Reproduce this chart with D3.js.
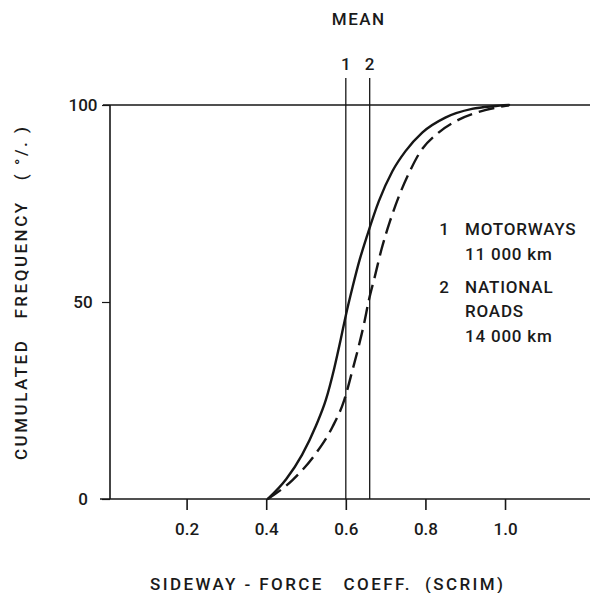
<!DOCTYPE html>
<html>
<head>
<meta charset="utf-8">
<script src="https://cdn.jsdelivr.net/npm/d3@7"></script>
<style>
  html, body { margin: 0; padding: 0; background: #ffffff; }
  svg { display: block; }
  text { font-family: Roboto, "Liberation Sans", Arial, sans-serif; font-weight: 500; fill: #1a1a1a; }
</style>
</head>
<body>
<svg id="chart" width="590" height="593"></svg>
<script>
// ---- data ----
const motorways = [
  [0.404, 0], [0.45, 5.0], [0.49, 11.2], [0.525, 18.6], [0.55, 25.2],
  [0.571, 33.2], [0.587, 40.4], [0.60, 46.6], [0.617, 53.8], [0.635, 60.8],
  [0.654, 67.0], [0.683, 75.6], [0.717, 83.2], [0.750, 88.3], [0.792, 93.0],
  [0.850, 96.8], [0.917, 99.0], [0.97, 99.7], [1.01, 100]
];
const nationalRoads = [
  [0.404, 0], [0.466, 4.8], [0.525, 11.6], [0.567, 18.4], [0.596, 25.1],
  [0.617, 32.8], [0.633, 39.0], [0.646, 44.6], [0.658, 50.5], [0.673, 56.5],
  [0.69, 63.5], [0.711, 70.5], [0.736, 77.5], [0.76, 83.0], [0.785, 87.8],
  [0.833, 93.0], [0.884, 96.3], [0.950, 98.7], [1.01, 99.9]
];
const meanValues = [0.60, 0.66];
const meanLabels = ["1", "2"];
const xTicks = [0.2, 0.4, 0.6, 0.8, 1.0];
const yTicks = [0, 50, 100];
const legendLines = [
  { key: "1", lines: ["MOTORWAYS", "11 000 km"] },
  { key: "2", lines: ["NATIONAL", "ROADS", "14 000 km"] }
];
const xTitle = "SIDEWAY - FORCE   COEFF.  (SCRIM)";
const yTitle = "CUMULATED   FREQUENCY   ( °/. )";
const meanTitle = "MEAN";

// ---- layout ----
const svg = d3.select("#chart");
const x = d3.scaleLinear().domain([0, 1.215]).range([107, 590.6]);
const y = d3.scaleLinear().domain([0, 100]).range([499, 105]);
const ink = "#161616";
const FS = 17;
const FF = 'Roboto, "Liberation Sans", Arial, sans-serif';

// top 100% line
svg.append("line")
  .attr("x1", 103).attr("x2", 590)
  .attr("y1", y(100)).attr("y2", y(100))
  .attr("stroke", ink).attr("stroke-width", 1.3);

// x axis
const xAxis = d3.axisBottom(x).tickValues(xTicks).tickSize(11).tickSizeOuter(0)
  .tickFormat(d3.format(".1f"));
const gx = svg.append("g").attr("transform", `translate(0,${y(0)})`).call(xAxis);
gx.select(".domain").attr("d", `M100,0H590`).attr("stroke", ink).attr("stroke-width", 1.5);
gx.selectAll(".tick line").attr("stroke", ink).attr("stroke-width", 1.6);
gx.selectAll(".tick text").attr("y", 36).attr("dy", 0)
  .style("font-size", FS + "px").style("font-family", FF).style("font-weight", 500)
  .attr("fill", ink);

// y axis
const yAxis = d3.axisLeft(y).tickValues(yTicks).tickSize(8).tickSizeOuter(0);
const gy = svg.append("g").attr("transform", `translate(110,0)`).call(yAxis);
gy.select(".domain").attr("d", `M0,${y(100)}V${y(0)}`).attr("stroke", ink).attr("stroke-width", 1.6);
gy.selectAll(".tick line").attr("stroke", ink).attr("stroke-width", 1.2);
gy.selectAll(".tick text").attr("x", -27).attr("dy", "0.35em")
  .attr("text-anchor", "middle")
  .style("font-size", FS + "px").style("font-family", FF).style("font-weight", 500)
  .attr("fill", ink);

// mean lines
svg.selectAll(".mean").data(meanValues).join("line")
  .attr("class", "mean")
  .attr("x1", d => x(d)).attr("x2", d => x(d))
  .attr("y1", 78).attr("y2", y(0))
  .attr("stroke", ink).attr("stroke-width", 1.3);
svg.selectAll(".meanlab").data(meanValues).join("text")
  .attr("class", "meanlab")
  .attr("x", d => x(d)).attr("y", 70)
  .attr("text-anchor", "middle")
  .style("font-size", FS + "px")
  .text((d, i) => meanLabels[i]);
svg.append("text")
  .attr("x", (x(meanValues[0]) + x(meanValues[1])) / 2 + 1).attr("y", 25)
  .attr("text-anchor", "middle")
  .style("font-size", FS + "px").style("letter-spacing", "1.5px")
  .text(meanTitle);

// curves
const lineGen = d3.line().x(d => x(d[0])).y(d => y(d[1])).curve(d3.curveMonotoneX);
svg.append("path").datum(motorways)
  .attr("d", lineGen).attr("fill", "none")
  .attr("stroke", ink).attr("stroke-width", 2.4).attr("stroke-linecap", "round");
svg.append("path").datum(nationalRoads)
  .attr("d", lineGen).attr("fill", "none")
  .attr("stroke", ink).attr("stroke-width", 2.4)
  .attr("stroke-dasharray", "16,7");

// legend
const legendBaselines = [[235, 260], [293, 317, 342]];
legendLines.forEach((item, i) => {
  svg.append("text").attr("x", 444).attr("y", legendBaselines[i][0])
    .attr("text-anchor", "middle").style("font-size", FS + "px").text(item.key);
  item.lines.forEach((t, j) => {
    svg.append("text").attr("x", 465).attr("y", legendBaselines[i][j])
      .style("font-size", FS + "px").style("letter-spacing", "0.8px").text(t);
  });
});

// axis titles
svg.append("text")
  .attr("x", 150).attr("y", 590)
  .attr("textLength", 353).attr("lengthAdjust", "spacing")
  .style("font-size", FS + "px").style("white-space", "pre")
  .text(xTitle);
svg.append("text")
  .attr("transform", "translate(27,460) rotate(-90)")
  .attr("x", 0).attr("y", 0)
  .attr("textLength", 333).attr("lengthAdjust", "spacing")
  .style("font-size", FS + "px").style("white-space", "pre")
  .text(yTitle);
</script>
</body>
</html>
